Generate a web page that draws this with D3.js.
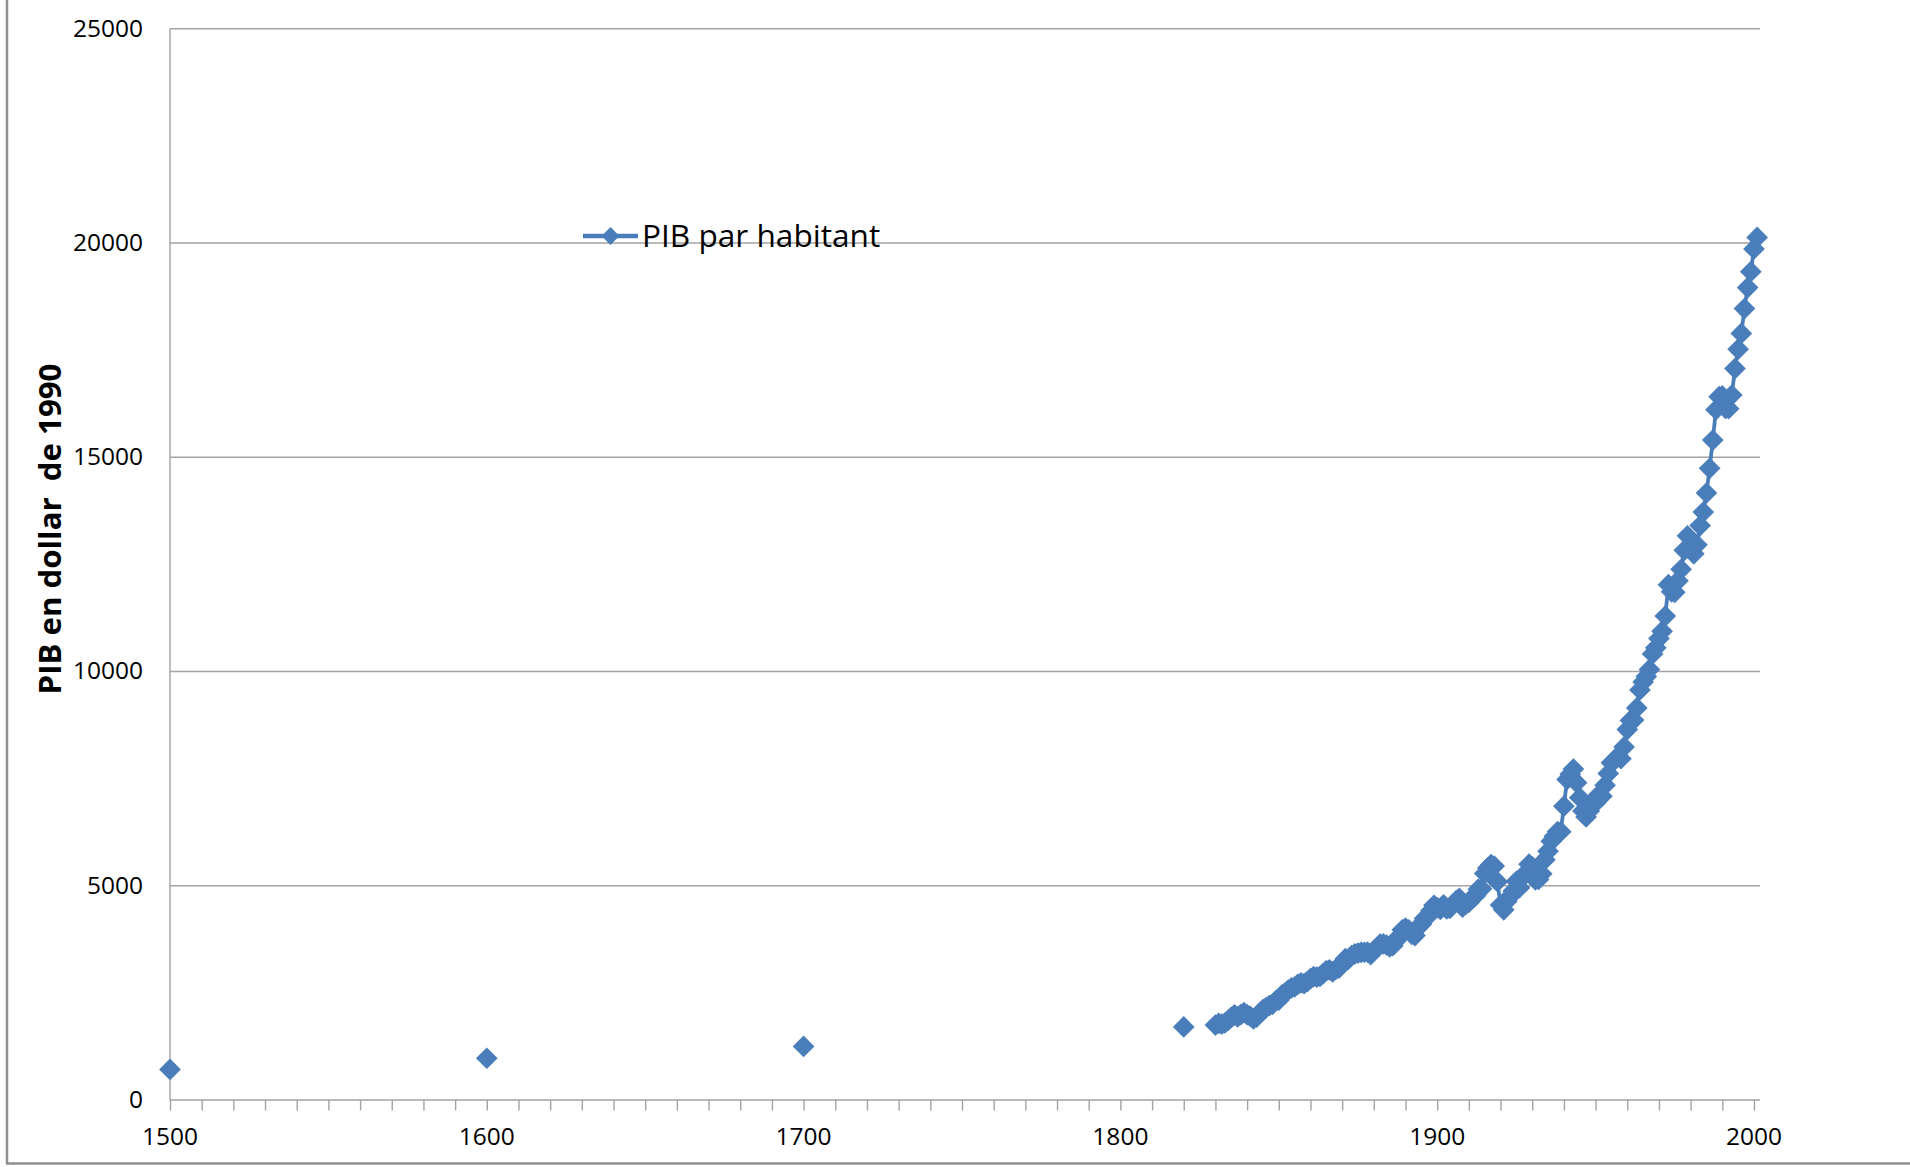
<!DOCTYPE html>
<html>
<head>
<meta charset="utf-8">
<script src="https://cdn.jsdelivr.net/npm/d3@7"></script>
<style>
  html, body { margin: 0; padding: 0; background: #ffffff; }
  svg { display: block; }
</style>
</head>
<body>
<script>
// GDP per capita, 1990 dollars: isolated benchmark years
const benchmarkYears = [1500, 1600, 1700, 1820];
const benchmarkValues = [714, 974, 1250, 1706];

// Annual series, one value per year starting at firstAnnualYear
const firstAnnualYear = 1830;
const annualValues = [
  1749, 1786, 1772, 1797, 1856, 1926, 1985, 1939, 1993, 2037,   // 1830s
  1990, 1953, 1890, 1932, 2032, 2107, 2158, 2204, 2233, 2310,   // 1840s
  2330, 2451, 2503, 2566, 2618, 2637, 2699, 2733, 2717, 2763,   // 1850s
  2830, 2880, 2868, 2884, 2948, 3021, 3038, 2990, 3047, 3078,   // 1860s
  3190, 3299, 3285, 3371, 3409, 3428, 3446, 3448, 3452, 3395,   // 1870s
  3477, 3553, 3639, 3643, 3617, 3574, 3600, 3714, 3821, 3971,   // 1880s
  4009, 3968, 3865, 3836, 4033, 4100, 4236, 4280, 4414, 4542,   // 1890s
  4492, 4450, 4555, 4461, 4473, 4556, 4655, 4704, 4503, 4565,   // 1900s
  4611, 4709, 4762, 4921, 4927, 5288, 5416, 5495, 5459, 5094,   // 1910s
  4548, 4439, 4637, 4746, 4878, 5103, 4956, 5230, 5274, 5503,   // 1920s
  5441, 5138, 5148, 5277, 5608, 5807, 6036, 6154, 6266, 6262,   // 1930s
  6856, 7482, 7600, 7724, 7404, 7056, 6746, 6604, 6746, 6956,   // 1940s
  6939, 7123, 7091, 7346, 7619, 7868, 7929, 8017, 7966, 8240,   // 1950s
  8645, 8857, 8865, 9149, 9568, 9752, 9885, 10049, 10410, 10552, // 1960s
  10767, 10941, 11294, 12025, 11859, 11847, 12115, 12384, 12828, 13167, // 1970s
  12931, 12747, 12955, 13404, 13720, 14165, 14742, 15399, 16110, 16414, // 1980s
  16430, 16142, 16133, 16450, 17070, 17520, 17890, 18470, 18960, 19330, // 1990s
  19860, 20130                                                   // 2000s
];

const yTickValues = [0, 5000, 10000, 15000, 20000, 25000];
const xTickValues = [1500, 1600, 1700, 1800, 1900, 2000];
const seriesName = "PIB par habitant";
const yAxisTitle = "PIB en dollar\u00a0\u00a0de 1990";

const W = 1910, H = 1167;
const blue = "#4a7ebb";
const gridColor = "#a3a3a3";
const fontFamily = "'Open Sans', 'Noto Sans', sans-serif";

const plot = { left: 170, right: 1760, top: 28.7, bottom: 1100 };

const x = d3.scaleLinear().domain([1500, 2001.9]).range([plot.left, plot.right]);
const y = d3.scaleLinear().domain([0, 25000]).range([plot.bottom, plot.top]);

const svg = d3.select("body").append("svg")
  .attr("width", W).attr("height", H)
  .attr("viewBox", `0 0 ${W} ${H}`);

svg.append("rect").attr("width", W).attr("height", H).attr("fill", "#ffffff");

// Chart area frame (left and bottom edges visible)
svg.append("line").attr("x1", 7).attr("x2", 7).attr("y1", 0).attr("y2", 1164)
  .attr("stroke", "#8f8f8f").attr("stroke-width", 2.5);
svg.append("line").attr("x1", 6).attr("x2", W).attr("y1", 1163.5).attr("y2", 1163.5)
  .attr("stroke", "#8f8f8f").attr("stroke-width", 2.5);

// Horizontal gridlines
svg.append("g").selectAll("line")
  .data(yTickValues.filter(v => v > 0))
  .join("line")
  .attr("x1", plot.left).attr("x2", plot.right)
  .attr("y1", d => y(d)).attr("y2", d => y(d))
  .attr("stroke", gridColor).attr("stroke-width", 1.4);

// Y axis line + labels
svg.append("line")
  .attr("x1", plot.left).attr("x2", plot.left)
  .attr("y1", plot.top).attr("y2", plot.bottom)
  .attr("stroke", gridColor).attr("stroke-width", 1.4);

svg.append("g").selectAll("text")
  .data(yTickValues)
  .join("text")
  .attr("x", 143)
  .attr("y", d => y(d) + 7.8)
  .attr("text-anchor", "end")
  .attr("font-family", fontFamily)
  .attr("font-size", 24.5)
  .attr("fill", "#000")
  .text(d => d);

// X axis: line, ticks every 10 years, labels every century
const xAxis = d3.axisBottom(x)
  .tickValues(d3.range(1500, 2001, 10))
  .tickSize(10.5)
  .tickFormat("");
const gx = svg.append("g").attr("transform", `translate(0,${plot.bottom})`).call(xAxis);
gx.select(".domain").remove();
gx.selectAll(".tick line").attr("stroke", gridColor).attr("stroke-width", 1.4);
svg.append("line")
  .attr("x1", plot.left).attr("x2", plot.right)
  .attr("y1", plot.bottom).attr("y2", plot.bottom)
  .attr("stroke", gridColor).attr("stroke-width", 1.4);

svg.append("g").selectAll("text")
  .data(xTickValues)
  .join("text")
  .attr("x", d => x(d))
  .attr("y", 1144.5)
  .attr("text-anchor", "middle")
  .attr("font-family", fontFamily)
  .attr("font-size", 24.5)
  .attr("fill", "#000")
  .text(d => d);

// Y axis title
svg.append("text")
  .attr("transform", "translate(61,529) rotate(-90)")
  .attr("text-anchor", "middle")
  .attr("font-family", fontFamily)
  .attr("font-weight", "bold")
  .attr("font-size", 31.2)
  .attr("fill", "#000")
  .text(yAxisTitle);

// Series data
const annual = annualValues.map((v, i) => ({ year: firstAnnualYear + i, value: v }));
const benchmarks = benchmarkYears.map((yr, i) => ({ year: yr, value: benchmarkValues[i] }));
const allPoints = benchmarks.concat(annual);

const line = d3.line().x(d => x(d.year)).y(d => y(d.value));
svg.append("path")
  .datum(annual)
  .attr("d", line)
  .attr("fill", "none")
  .attr("stroke", blue)
  .attr("stroke-width", 3.8)
  .attr("stroke-linejoin", "round");

const diamond = d3.symbol().type(d3.symbolSquare).size(236);
svg.append("g").selectAll("path")
  .data(allPoints)
  .join("path")
  .attr("d", diamond)
  .attr("transform", d => `translate(${x(d.year)},${y(d.value)}) rotate(45)`)
  .attr("fill", blue);

// Legend
const legend = svg.append("g");
legend.append("line")
  .attr("x1", 583).attr("x2", 638).attr("y1", 236).attr("y2", 236)
  .attr("stroke", blue).attr("stroke-width", 4.5);
legend.append("path")
  .attr("d", d3.symbol().type(d3.symbolSquare).size(160)())
  .attr("transform", "translate(610.5,236) rotate(45)")
  .attr("fill", blue);
legend.append("text")
  .attr("x", 642).attr("y", 247)
  .attr("font-family", fontFamily)
  .attr("font-size", 31.6)
  .attr("fill", "#000")
  .text(seriesName);
</script>
</body>
</html>
